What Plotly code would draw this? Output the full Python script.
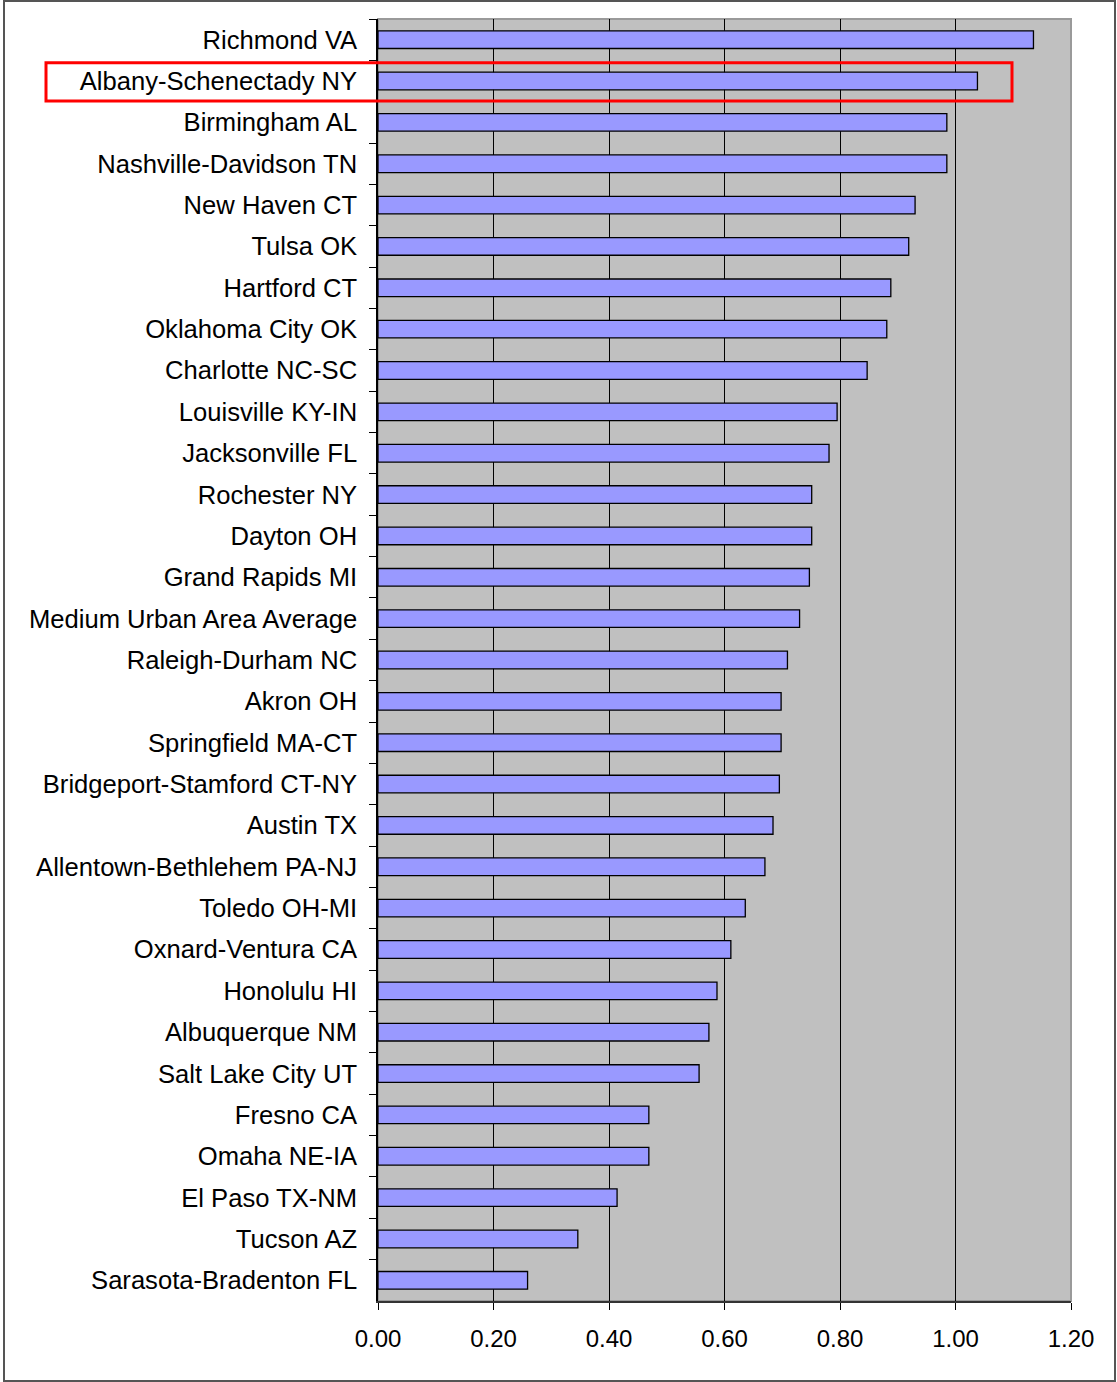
import plotly.graph_objects as go

# Urban areas, top to bottom as in the chart
areas = [
    "Richmond VA", "Albany-Schenectady NY", "Birmingham AL", "Nashville-Davidson TN",
    "New Haven CT", "Tulsa OK", "Hartford CT", "Oklahoma City OK", "Charlotte NC-SC",
    "Louisville KY-IN", "Jacksonville FL", "Rochester NY", "Dayton OH", "Grand Rapids MI",
    "Medium Urban Area Average", "Raleigh-Durham NC", "Akron OH", "Springfield MA-CT",
    "Bridgeport-Stamford CT-NY", "Austin TX", "Allentown-Bethlehem PA-NJ", "Toledo OH-MI",
    "Oxnard-Ventura CA", "Honolulu HI", "Albuquerque NM", "Salt Lake City UT", "Fresno CA",
    "Omaha NE-IA", "El Paso TX-NM", "Tucson AZ", "Sarasota-Bradenton FL",
]
values = [
    1.135, 1.038, 0.985, 0.985, 0.930, 0.919, 0.888, 0.881, 0.847, 0.795,
    0.781, 0.751, 0.751, 0.747, 0.730, 0.709, 0.698, 0.698, 0.695, 0.684,
    0.670, 0.636, 0.611, 0.587, 0.573, 0.556, 0.469, 0.469, 0.414, 0.346,
    0.259,
]
x_ticks = [0, 0.2, 0.4, 0.6, 0.8, 1.0, 1.2]
highlight = "Albany-Schenectady NY"

fig = go.Figure(go.Bar(
    x=values, y=areas, orientation="h",
    marker=dict(color="#9999FF", line=dict(color="black", width=1.3)),
))

# figure size and plot area
W, H = 1117, 1382
L, R, T, B = 378, 46, 19, 81
pw, ph = W - L - R, H - T - B

def px_x(p):
    return (p - L) / pw

def px_y(p):
    return (H - B - p) / ph

idx = areas.index(highlight)

fig.update_layout(
    width=W, height=H,
    margin=dict(l=L, r=R, t=T, b=B),
    paper_bgcolor="white",
    plot_bgcolor="#C0C0C0",
    font=dict(family="Liberation Sans, Arial, sans-serif", size=24, color="black"),
    bargap=0.574,
    showlegend=False,
    xaxis=dict(
        range=[0, 1.2], tickvals=x_ticks, tickformat=".2f",
        showgrid=True, gridcolor="black", gridwidth=1,
        showline=True, linecolor="#333333", linewidth=2,
        ticks="outside", ticklen=7, tickcolor="black",
        ticklabelstandoff=8,
        zeroline=False, fixedrange=True,
    ),
    yaxis=dict(
        autorange="reversed", type="category",
        showline=True, linecolor="black", linewidth=1.5,
        ticks="outside", ticklen=7, tickcolor="black", tickson="boundaries",
        ticklabelstandoff=14, showgrid=False, tickfont=dict(size=25.6),
    ),
    shapes=[
        # light border on top/right of the plot area
        dict(type="rect", xref="paper", yref="paper", x0=0, x1=1, y0=0, y1=1,
             line=dict(color="#9a9a9a", width=2), layer="below"),
        # outer chart frame
        dict(type="rect", xref="paper", yref="paper",
             x0=px_x(4), x1=px_x(1115), y0=px_y(1381), y1=px_y(1),
             line=dict(color="#555555", width=2)),
        # red highlight box
        dict(type="rect", xref="paper", yref="y",
             x0=px_x(46), x1=px_x(1012), y0=idx - 0.44, y1=idx + 0.48,
             line=dict(color="red", width=3)),
    ],
)

fig.write_html("out.html", config={"displayModeBar": False},
               post_script="document.body.style.margin='0';")
